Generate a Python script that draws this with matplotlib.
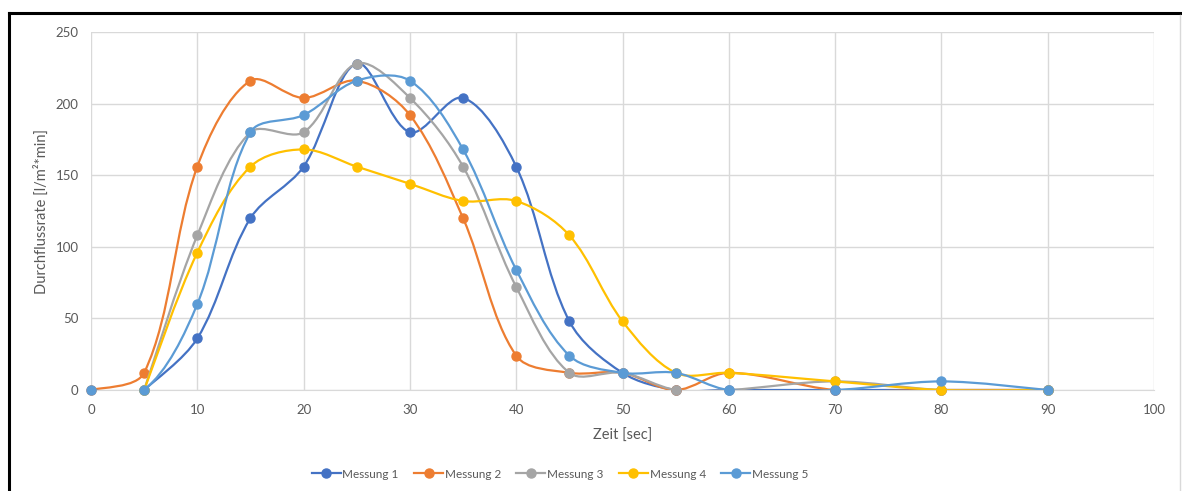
import matplotlib
matplotlib.use("Agg")
import math
import matplotlib.pyplot as plt
from matplotlib.path import Path
from matplotlib.patches import PathPatch
from matplotlib.lines import Line2D

plt.rcParams['font.family'] = ['Lato', 'DejaVu Sans']

# Messwerte (Zeit in sec, Durchflussrate in l/m²*min)
x_m1 = [5, 10, 15, 20, 25, 30, 35, 40, 45, 50, 55, 60, 70, 80, 90]
y_m1 = [0, 36, 120, 156, 228, 180, 204, 156, 48, 12, 0, 0, 0, 0, 0]

x_m2 = [0, 5, 10, 15, 20, 25, 30, 35, 40, 45, 50, 55, 60, 70, 80, 90]
y_m2 = [0, 12, 156, 216, 204, 216, 192, 120, 24, 12, 12, 0, 12, 0, 0, 0]

x_m3 = [5, 10, 15, 20, 25, 30, 35, 40, 45, 50, 55, 60, 70, 80, 90]
y_m3 = [0, 108, 180, 180, 228, 204, 156, 72, 12, 12, 0, 0, 6, 0, 0]

x_m4 = [5, 10, 15, 20, 25, 30, 35, 40, 45, 50, 55, 60, 70, 80, 90]
y_m4 = [0, 96, 156, 168, 156, 144, 132, 132, 108, 48, 12, 12, 6, 0, 0]

x_m5 = [0, 5, 10, 15, 20, 25, 30, 35, 40, 45, 50, 55, 60, 70, 80, 90]
y_m5 = [0, 0, 60, 180, 192, 216, 216, 168, 84, 24, 12, 12, 0, 0, 6, 0]

labels = ['Messung 1', 'Messung 2', 'Messung 3', 'Messung 4', 'Messung 5']
colors = ['#4472C4', '#ED7D31', '#A5A5A5', '#FFC000', '#5B9BD5']
series = [(x_m1, y_m1), (x_m2, y_m2), (x_m3, y_m3), (x_m4, y_m4), (x_m5, y_m5)]


def smooth_path(xs, ys, sx, sy):
    # geglaettete Linie wie in Excel: Bezier mit Tangenten nach Segmentlaenge
    pts = list(zip(xs, ys))
    n = len(pts)

    def dist(a, b):
        return math.hypot((a[0] - b[0]) * sx, (a[1] - b[1]) * sy)

    verts = [pts[0]]
    codes = [Path.MOVETO]
    for i in range(n - 1):
        p0 = pts[i - 1] if i > 0 else pts[i]
        p1 = pts[i]
        p2 = pts[i + 1]
        p3 = pts[i + 2] if i + 2 < n else pts[i + 1]
        d01 = dist(p0, p1)
        d12 = dist(p1, p2)
        d23 = dist(p2, p3)
        f1 = 2 * d12 / (d01 + d12) if i > 0 else 1.0
        f2 = 2 * d12 / (d12 + d23) if i + 2 < n else 1.0
        c1 = (p1[0] + (p2[0] - p0[0]) / 6 * f1, p1[1] + (p2[1] - p0[1]) / 6 * f1)
        c2 = (p2[0] - (p3[0] - p1[0]) / 6 * f2, p2[1] - (p3[1] - p1[1]) / 6 * f2)
        verts += [c1, c2, p2]
        codes += [Path.CURVE4] * 3
    return Path(verts, codes)


fig = plt.figure(figsize=(11.82, 4.91), dpi=100)
ax = fig.add_axes([91 / 1182, 1 - 390 / 491, (1154 - 91) / 1182, (390 - 32) / 491])
ax.set_xlim(0, 100)
ax.set_ylim(0, 250)

# Pixel pro Einheit fuer die Glaettung
sx = (1154 - 91) / 100
sy = (390 - 32) / 250

txt = '#595959'
grid = '#D9D9D9'

for i, ((xs, ys), c) in enumerate(zip(series, colors)):
    patch = PathPatch(smooth_path(xs, ys, sx, sy), facecolor='none', edgecolor=c,
                      lw=1.6, zorder=3 + i, capstyle='round', joinstyle='round')
    ax.add_patch(patch)
    ax.plot(xs, ys, ls='none', marker='o', ms=6.5, color=c, zorder=3 + i, clip_on=False)

ax.set_xticks(range(0, 101, 10))
ax.set_yticks(range(0, 251, 50))
ax.grid(True, color=grid, lw=1)
ax.set_axisbelow(True)
for s in ['top', 'right', 'left']:
    ax.spines[s].set_visible(False)
ax.spines['bottom'].set_color(grid)
ax.tick_params(length=0, labelsize=9.5, colors=txt)
ax.tick_params(axis='x', pad=10)
ax.tick_params(axis='y', pad=9)

ax.set_xlabel('Zeit [sec]', fontsize=10.5, color=txt, labelpad=9)
ax.set_ylabel('Durchflussrate [l/m²*min]', fontsize=10.5, color=txt, labelpad=5)

handles = [Line2D([], [], color=c, lw=1.6, marker='o', ms=6.5) for c in colors]
fig.legend(handles, labels, loc='center', bbox_to_anchor=(560 / 1182, 1 - 474 / 491),
           ncol=5, frameon=False, fontsize=8.5, labelcolor=txt,
           handlelength=2.45, handletextpad=0.15, columnspacing=1.3)

# Rahmen des Screenshots
fig.add_artist(Line2D([9 / 1182, 1], [1 - 13 / 491, 1 - 13 / 491], color='black', lw=2.2,
                      transform=fig.transFigure))
fig.add_artist(Line2D([9 / 1182, 9 / 1182], [0, 1 - 13 / 491], color='black', lw=2.2,
                      transform=fig.transFigure))
fig.add_artist(Line2D([1180 / 1182, 1180 / 1182], [0, 1 - 15 / 491], color='#D9D9D9', lw=1,
                      transform=fig.transFigure))

fig.savefig('out.png', dpi=100)
